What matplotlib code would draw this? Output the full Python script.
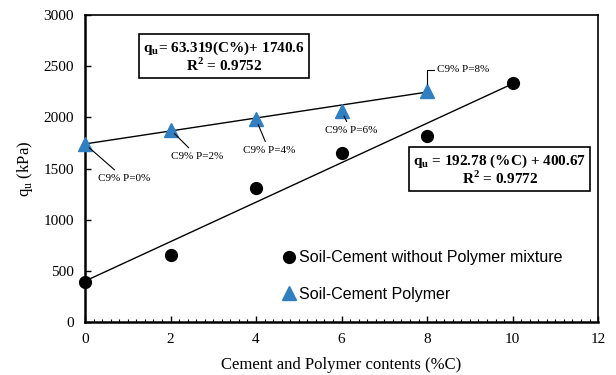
import matplotlib
matplotlib.use("Agg")
import matplotlib.pyplot as plt
import numpy as np
from matplotlib.ticker import MultipleLocator

# Data
cement_x = [0, 2, 4, 6, 8, 10]
qu_no_polymer = [390, 660, 1310, 1650, 1820, 2340]
polymer_x = [0, 2, 4, 6, 8]
qu_polymer = [1740, 1880, 1980, 2060, 2260]
polymer_labels = ["C9% P=0%", "C9% P=2%", "C9% P=4%", "C9% P=6%", "C9% P=8%"]
fit_no_polymer = (192.78, 400.67)
fit_polymer = (63.319, 1740.6)

serif = "Liberation Serif"
sans = "Liberation Sans"

fig = plt.figure(figsize=(6.16, 3.75), dpi=100)
ax = fig.add_axes([0.138, 0.141, 0.833, 0.819])

# trend lines
xl = np.array([min(cement_x), max(cement_x)])
ax.plot(xl, fit_no_polymer[0] * xl + fit_no_polymer[1], color="black", lw=1.0, zorder=2)
xp = np.array([min(polymer_x), max(polymer_x)])
ax.plot(xp, fit_polymer[0] * xp + fit_polymer[1], color="black", lw=1.0, zorder=2)

ax.plot(cement_x, qu_no_polymer, "o", color="black", ms=8.5, ls="none", zorder=3,
        clip_on=False, label="Soil-Cement without Polymer mixture")
ax.plot(polymer_x, qu_polymer, "^", color="#2f7fc1", ms=10, ls="none", zorder=3,
        clip_on=False, label="Soil-Cement Polymer")

# annotations
text_pos = [(0.91, 1407), (2.62, 1622), (4.30, 1681), (6.22, 1876), (8.23, 2463)]
for (x, y, lab, tp) in zip(polymer_x, qu_polymer, polymer_labels, text_pos):
    if lab.endswith("8%"):
        ax.annotate(lab, xy=(x, y), xytext=tp, fontsize=8, family=serif,
                    ha="left", va="center",
                    arrowprops=dict(arrowstyle="-", color="black", lw=0.8,
                                    connectionstyle="angle,angleA=0,angleB=90,rad=0",
                                    shrinkA=0, shrinkB=5))
    else:
        ax.annotate(lab, xy=(x, y), xytext=tp, fontsize=8, family=serif,
                    ha="center", va="center",
                    arrowprops=dict(arrowstyle="-", color="black", lw=0.8,
                                    shrinkA=1, shrinkB=4))

# equation boxes
ax.text(3.25, 2590, "q$_{\\mathregular{u}}$= 63.319(C%)+ 1740.6\nR$^{\\mathregular{2}}$ = 0.9752",
        fontsize=11, family=serif, weight="bold", ha="center", va="center",
        linespacing=1.0,
        bbox=dict(boxstyle="square,pad=0.25", fc="white", ec="black", lw=1.2))
ax.text(9.7, 1485, "q$_{\\mathregular{u}}$ = 192.78 (%C) + 400.67\nR$^{\\mathregular{2}}$ = 0.9772",
        fontsize=11, family=serif, weight="bold", ha="center", va="center",
        linespacing=1.0,
        bbox=dict(boxstyle="square,pad=0.25", fc="white", ec="black", lw=1.2))

ax.set_xlim(0, 12)
ax.set_ylim(0, 3000)
ax.xaxis.set_major_locator(MultipleLocator(2))
ax.xaxis.set_minor_locator(MultipleLocator(0.2))
ax.yaxis.set_major_locator(MultipleLocator(500))
ax.tick_params(axis="both", which="major", direction="in", length=4, width=1, labelsize=11, pad=8)
ax.tick_params(axis="x", which="minor", direction="in", length=2.5, width=0.8)
for lbl in ax.get_xticklabels() + ax.get_yticklabels():
    lbl.set_family(serif)
for s in ax.spines.values():
    s.set_linewidth(1.2)
ax.spines["left"].set_linewidth(1.8)
ax.spines["bottom"].set_linewidth(1.8)

ax.set_xlabel("Cement and Polymer contents (%C)", family=serif, fontsize=12, labelpad=8)
ax.set_ylabel("q$_{\\mathregular{u}}$ (kPa)", family=serif, fontsize=12, labelpad=6)

leg = ax.legend(loc="lower left", bbox_to_anchor=(0.37, 0.045), frameon=False,
                prop={"family": sans, "size": 11.5}, handletextpad=0.1,
                handlelength=1.0, labelspacing=1.35, borderaxespad=0)

fig.savefig("out.png", dpi=100)
